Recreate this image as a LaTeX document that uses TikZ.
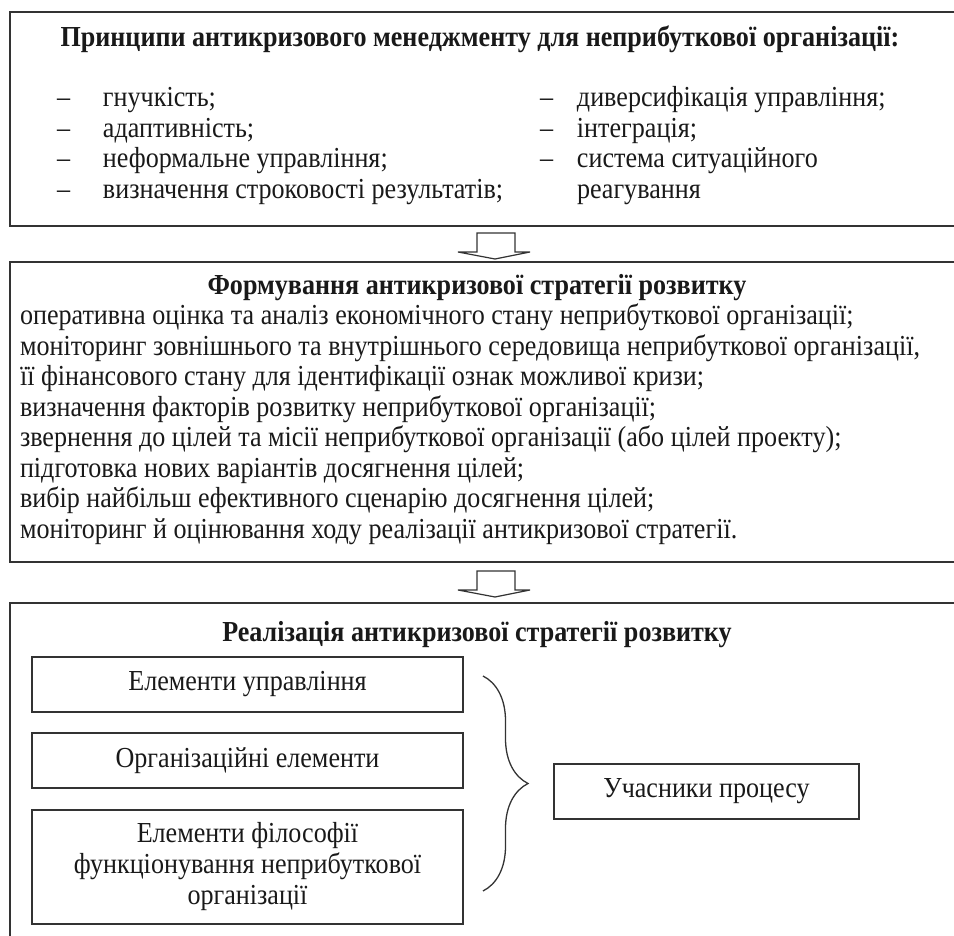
\documentclass[tikz,border=0pt]{standalone}
\usepackage{fontspec}
\setmainfont{Liberation Serif}[FakeStretch=0.9]
\usetikzlibrary{calc, decorations.pathreplacing, positioning}

\begin{document}
\begin{tikzpicture}[x=1pt, y=-1pt,
node distance = 21pt and 10pt,
every node/.style = {inner sep=0pt, outer sep=0pt, text=black!90},
frame/.style = {draw=black!80, line width=1.6pt, anchor=north west,
                minimum width=1000pt},
elbox/.style = {draw=black!80, line width=1.3pt, minimum width=431pt,
                minimum height=55pt, align=center,
                font=\fontsize{29}{31}\selectfont},
head/.style = {anchor=base, font=\fontsize{29}{31}\selectfont\bfseries},
body/.style = {anchor=base west, font=\fontsize{29}{30.5}\selectfont},
block/.style = {draw=black!80, line width=1.2pt, line join=miter},
brace/.style = {draw=black!80, line width=1.3pt, decorate,
                decoration={brace, amplitude=45pt}},
                    ]
\path[use as bounding box] (0,0) rectangle (954,936);
\clip (0,0) rectangle (954,936);

% principles
\node[frame, minimum height=214pt] (prin) at (10,12) {};
\node[head] (prin_t) at (480,47)
        {Принципи антикризового менеджменту для неприбуткової організації:};
\node[body] (prin_l) at (57,107) {\begin{tabular}[t]{@{}p{46pt}@{}l@{}}
    – & гнучкість; \\
    – & адаптивність; \\
    – & неформальне управління; \\
    – & визначення строковості результатів;
    \end{tabular}};
\node[body] (prin_r) at (540,107) {\begin{tabular}[t]{@{}p{37pt}@{}l@{}}
    – & диверсифікація управління; \\
    – & інтеграція; \\
    – & система ситуаційного \\
      & реагування
    \end{tabular}};

% strategy
\node[frame, minimum height=300pt] (form) at (10,262) {};
\node[head] (form_t) at (477,295) {Формування антикризової стратегії розвитку};
\node[body] (form_b) at (20,325) {\begin{tabular}[t]{@{}l@{}}
    оперативна оцінка та аналіз економічного стану неприбуткової організації; \\
    моніторинг зовнішнього та внутрішнього середовища неприбуткової організації, \\
    її фінансового стану для ідентифікації ознак можливої кризи; \\
    визначення факторів розвитку неприбуткової організації; \\
    звернення до цілей та місії неприбуткової організації (або цілей проекту); \\
    підготовка нових варіантів досягнення цілей; \\
    вибір найбільш ефективного сценарію досягнення цілей; \\
    моніторинг й оцінювання ходу реалізації антикризової стратегії.
    \end{tabular}};

% realisation
\node[frame, minimum height=400pt] (real) at (10,603) {};
\node[head] (real_t) at (477,641) {Реалізація антикризової стратегії розвитку};
\node[elbox, anchor=north west] (el1) at (32,657) {Елементи управління};
\node[elbox, below=21pt of el1] (el2) {Організаційні елементи};
\node[elbox, below=22pt of el2, minimum height=114pt] (el3)
        {Елементи філософії \\ функціонування неприбуткової \\ організації};
\node[elbox, anchor=north west, minimum width=305pt] (part) at (554,764)
        {Учасники процесу};

\coordinate (br_t) at (483,676);
\coordinate (br_b) at (483,891);
\draw[brace] (br_t) -- (br_b);

% arrows between the blocks
\coordinate (a1) at (496,233);
\coordinate (a2) at (496,571);
\foreach \a in {a1, a2}
    \draw[block] (\a) +(-19,0) -- +(19,0) -- +(19,19) -- +(34,19)
        -- +(-1,26) -- +(-38,19) -- +(-19,19) -- cycle;
\end{tikzpicture}
\end{document}
